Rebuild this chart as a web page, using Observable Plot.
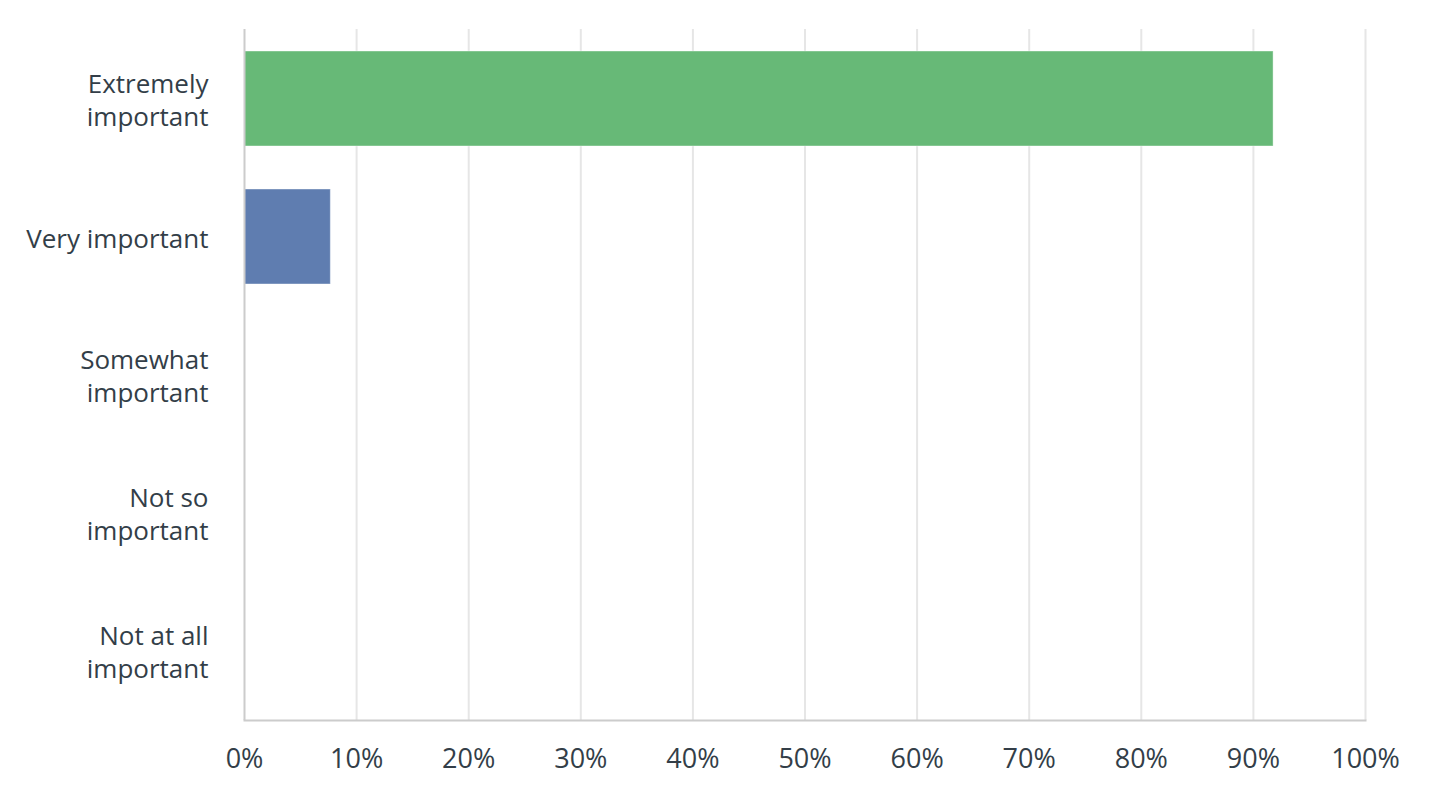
<!DOCTYPE html>
<html><head><meta charset="utf-8">
<script src="https://cdn.jsdelivr.net/npm/d3@7"></script>
<script src="https://cdn.jsdelivr.net/npm/@observablehq/plot@0.6"></script>
<style>
body{margin:0;background:#fff;}
#chart svg{display:block;}
</style>
</head><body><div id="chart"></div>
<script>
const categories = ["Extremely important","Very important","Somewhat important","Not so important","Not at all important"];
const labels = ["Extremely\nimportant","Very important","Somewhat\nimportant","Not so\nimportant","Not at all\nimportant"];
const values = [91.8, 7.7, 0, 0, 0];
const colors = ["#67b977","#5f7db0","#e8744a","#f0b64a","#9a7fb8"];
const xTicks = [0,10,20,30,40,50,60,70,80,90,100];

const data = categories.map((c,i)=>({cat:c, value:values[i], color:colors[i]}));
const labelOf = new Map(categories.map((c,i)=>[c,labels[i]]));

const chart = Plot.plot({
  width: 1454, height: 806,
  marginLeft: 244, marginRight: 89, marginTop: 29, marginBottom: 86,
  style: {fontFamily: "'Open Sans', sans-serif", fontSize: "26px", color: "#333e48", background: "#fff"},
  x: {domain: [0,100], ticks: xTicks, tickFormat: d => d + "%", label: null},
  y: {domain: categories, paddingInner: 0.31, paddingOuter: 0.155, label: null},
  marks: [
    Plot.ruleX(xTicks.filter(d=>d>0), {stroke: "#e6e6e6", strokeWidth: 2}),
    Plot.barX(data, {y: "cat", x: "value", fill: d => d.color, stroke: "#ffffff", strokeOpacity: 0.4, strokeWidth: 1}),
    Plot.ruleX([0], {stroke: "#cccccc", strokeWidth: 2}),
    Plot.frame({anchor: "bottom", stroke: "#cccccc", strokeWidth: 2}),
    Plot.axisX({ticks: xTicks, tickFormat: d => d + "%", tickSize: 0, tickPadding: 28, fontSize: 27, fill: "#333e48", label: null}),
    Plot.axisY({tickSize: 0, tickPadding: 36, fontSize: 26, fill: "#333e48", tickFormat: d => labelOf.get(d), lineHeight: 1.28, label: null})
  ]
});
document.getElementById("chart").appendChild(chart);
</script>
</body></html>
